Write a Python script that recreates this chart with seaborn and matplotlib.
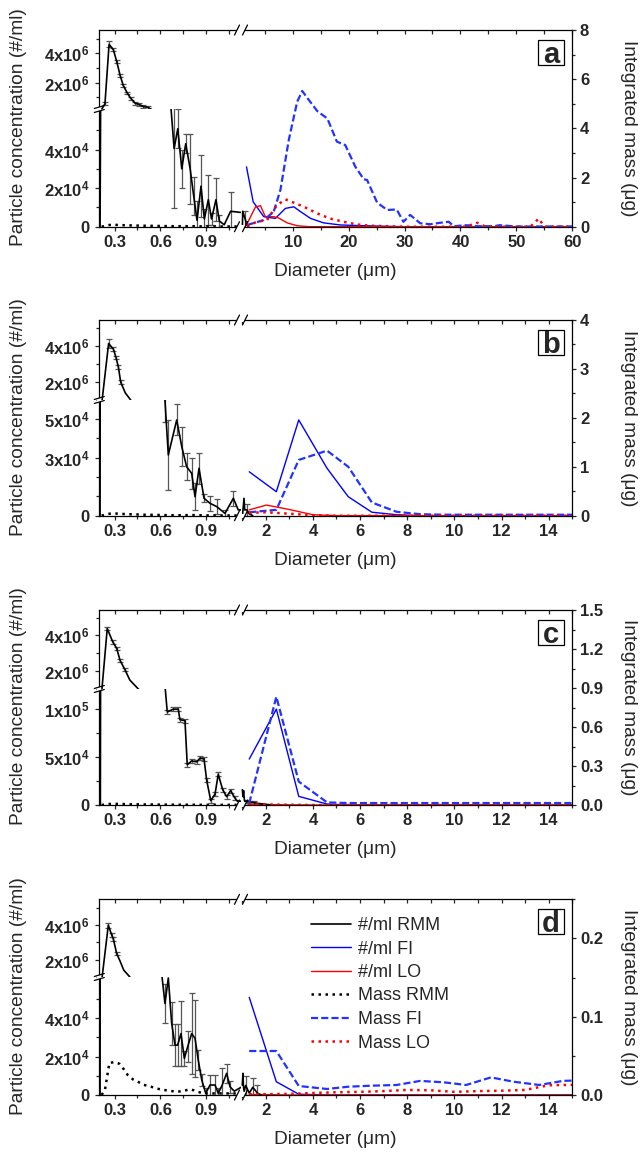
import matplotlib.pyplot as plt
import seaborn as sns
import numpy as np
from matplotlib.lines import Line2D
from matplotlib.patches import Rectangle

sns.set_theme(style="ticks")
plt.rcParams['font.family'] = ['Liberation Sans', 'DejaVu Sans']
plt.rcParams['mathtext.fontset'] = 'custom'
plt.rcParams['mathtext.rm'] = 'Liberation Sans'
plt.rcParams['mathtext.bf'] = 'Liberation Sans:bold'
plt.rcParams['axes.linewidth'] = 0.9
plt.rcParams['axes.edgecolor'] = 'black'

W, H = 640, 1153

# ---------------- data ----------------
panel_letters = ['a', 'b', 'c', 'd']

# RMM number concentration (#/ml) and error bars
rmm_x_a = [0.205, 0.237, 0.264, 0.292, 0.314, 0.336, 0.357, 0.383, 0.405, 0.434, 0.462, 0.488, 0.521,
           0.555, 0.59, 0.625, 0.663, 0.69, 0.714, 0.74, 0.766, 0.795, 0.818, 0.84, 0.866, 0.888,
           0.914, 0.935, 0.964, 0.986, 1.018, 1.06, 1.5, 1.8, 2.1]
rmm_n_a = [0, 5.5e5, 4.6e6, 4.24e6, 3.44e6, 2.5e6, 1.8e6, 1.29e6, 9.4e5, 6.0e5, 5.0e5, 3.7e5, 3.0e5,
           9e4, 8e4, 7e4, 6.8e4, 4.05e4, 5.08e4, 3.0e4, 4.3e4, 3.0e4, 1.6e4, 3.3e3, 2.1e4, 4e3,
           1.4e4, 4e3, 1.4e4, 3e3, 1e3, 8e3, 4e3, 1e3, 0]
rmm_err_a = [0, 1e5, 2e5, 1e5, 1e5, 1e5, 1e5, 1e5, 1e5, 1e5, 1e5, 1e5, 1e5,
             0, 0, 0, 0, 3.1e4, 1.0e4, 1.0e4, 5e3, 1.8e4, 1.0e4, 1.0e4, 1.6e4, 5e3,
             1.3e4, 3e3, 1.1e4, 3e3, 0, 1.0e4, 4e3, 0, 0]

rmm_x_b = [0.205, 0.261, 0.292, 0.309, 0.325, 0.34, 0.37, 0.45, 0.55, 0.62,
           0.63, 0.652, 0.707, 0.74, 0.772, 0.805, 0.827, 0.853, 0.886, 0.925, 0.969, 1.023, 1.078, 1.11,
           1.2, 1.3, 1.45]
rmm_n_b = [0, 4.15e6, 3.84e6, 3.38e6, 2.84e6, 2.0e6, 1.4e6, 5e5, 2e5, 8e4,
           5.95e4, 3.14e4, 4.95e4, 3.57e4, 2.53e4, 2.19e4, 9.8e3, 2.45e4, 9e3, 6.4e3, 4.7e3, 1.2e3, 9e3, 3e3,
           3e3, 1e3, 0]
rmm_err_b = [0, 2.5e5, 1e5, 1e5, 1e5, 1e5, 0, 0, 0, 0,
             1.1e4, 1.8e4, 8e3, 1.0e4, 7e3, 8e3, 7e3, 8e3, 2e3, 4e3, 4e3, 2e3, 4e3, 0,
             3e3, 0, 0]

rmm_x_c = [0.207, 0.252, 0.288, 0.314, 0.336, 0.368, 0.40, 0.5, 0.6, 0.625,
           0.63, 0.645, 0.685, 0.717, 0.728, 0.761, 0.776, 0.805, 0.838, 0.86, 0.886, 0.903, 0.93,
           0.958, 0.979, 1.008, 1.034, 1.06, 1.089, 1.104,
           1.2, 1.35, 1.5, 1.7, 1.9, 2.2]
rmm_n_c = [0, 4.38e6, 3.64e6, 3.27e6, 2.6e6, 2.08e6, 1.5e6, 6e5, 2.5e5, 1.4e5,
           1.25e5, 9.7e4, 1.0e5, 1.0e5, 8.9e4, 8.8e4, 4.2e4, 4.6e4, 4.5e4, 4.9e4, 4.8e4, 2.6e4, 4.5e3,
           1.15e4, 3.2e4, 1.6e4, 8.7e3, 1.5e4, 7e3, 4e3,
           4e3, 3e3, 2.5e3, 1.5e3, 1e3, 0]
rmm_err_c = [0, 1e5, 1e5, 1e5, 1e5, 1e5, 0, 0, 0, 0,
             0, 2e3, 2e3, 2e3, 2e3, 2e3, 2e3, 2e3, 2e3, 2e3, 2e3, 2e3, 2e3,
             2e3, 2e3, 2e3, 2e3, 2e3, 2e3, 0,
             1.5e3, 1.5e3, 1.5e3, 1e3, 0, 0]

rmm_x_d = [0.205, 0.259, 0.281, 0.292, 0.314, 0.336, 0.36, 0.45, 0.53, 0.59,
           0.609, 0.63, 0.652, 0.674, 0.696, 0.713, 0.735, 0.757, 0.779, 0.805, 0.827, 0.848, 0.871,
           0.897, 0.925, 0.958, 0.979, 1.005, 1.034, 1.056, 1.084,
           1.15, 1.3, 1.45, 1.65, 1.8]
rmm_n_d = [0, 4.0e6, 3.44e6, 3.2e6, 2.35e6, 1.92e6, 1.4e6, 5e5, 1.5e5, 9e4,
           6.3e4, 4.77e4, 6.1e4, 3.73e4, 2.6e4, 2.6e4, 3.2e4, 1.91e4, 2.52e4, 3.2e4, 2.95e4, 1.82e4, 7.8e3,
           900, 5.2e3, 5.2e3, 900, 5.2e3, 1.13e4, 4.3e3, 2e3,
           5e3, 1e3, 4e3, 1e3, 0]
rmm_err_d = [0, 1.5e5, 1e5, 1e5, 1e5, 0, 0, 0, 0, 0,
             0, 1.0e4, 0, 1.1e4, 1.1e4, 1.1e4, 1.7e4, 4e3, 8e3, 2.1e4, 2.0e4, 5e3, 3e3,
             3e3, 5e3, 5e3, 3e3, 9e3, 5e3, 3e3, 0,
             5e3, 0, 5e3, 4e3, 0]

# RMM integrated mass (ug), sub-micron range
rmm_mass_x = [0.215, 0.237, 0.266, 0.3, 0.331, 0.36, 0.386, 0.42, 0.452, 0.49, 0.539, 0.58,
              0.626, 0.67, 0.714, 0.75, 0.79, 0.82, 0.845, 0.888, 0.95, 1.0, 1.05, 1.1]
rmm_mass_a = [0, 0.03, 0.07, 0.075, 0.07, 0.06, 0.055, 0.05, 0.045, 0.04, 0.035, 0.03,
              0.025, 0.02, 0.02, 0.02, 0.02, 0.02, 0.015, 0.01, 0.01, 0.01, 0.01, 0.01]
rmm_mass_b = [0, 0.02, 0.04, 0.045, 0.04, 0.035, 0.03, 0.028, 0.025, 0.02, 0.018, 0.015,
              0.012, 0.01, 0.01, 0.01, 0.012, 0.012, 0.01, 0.008, 0.006, 0.005, 0.005, 0.005]
rmm_mass_c = [0, 0.004, 0.008, 0.009, 0.008, 0.007, 0.006, 0.005, 0.005, 0.004, 0.004, 0.003,
              0.003, 0.002, 0.002, 0.002, 0.002, 0.002, 0.002, 0.001, 0.001, 0.001, 0.001, 0.001]
rmm_mass_d = [0, 0.0064, 0.041, 0.042, 0.040, 0.033, 0.0255, 0.02, 0.017, 0.013, 0.0106, 0.008,
              0.0064, 0.005, 0.0043, 0.005, 0.0073, 0.006, 0.004, 0.002, 0.002, 0.002, 0.002, 0.002]

# FI (flow imaging) and LO (light obscuration), micron range
fi_x_a = [1.74, 2.93, 4.83, 6.9, 8.7, 10.2, 11.4, 13.2, 15.5, 18.5, 22.7, 30, 40, 50, 60]
fi_n_a = [3.1e4, 1.29e4, 5.2e3, 4.3e3, 9.5e3, 1.03e4, 7.8e3, 4.3e3, 2.0e3, 900, 500, 0, 0, 0, 0]
fi_mass_x_a = [1.86, 4.83, 6.6, 7.8, 9.3, 10.8, 11.7, 12.9, 14.4, 16.2, 17.9, 19.4, 21.2, 22.7, 23.3,
               25.1, 26.9, 28.6, 29.8, 31.0, 32.8, 34.6, 36.4, 37.9, 38.8, 41.0, 43.0, 46.0, 47.0,
               50.0, 60.0]
fi_mass_a = [0.07, 0.27, 0.61, 1.49, 3.53, 5.08, 5.52, 5.15, 4.7, 4.4, 3.46, 3.32, 2.44, 1.93, 1.9,
             0.98, 0.68, 0.7, 0.2, 0.48, 0.14, 0.1, 0.16, 0.2, 0.02, 0.06, 0.02, 0.02, 0.06,
             0.01, 0.01]
lo_x_a = [1.74, 3.35, 4.24, 5.1, 6.6, 7.5, 9.0, 10.8, 13.0, 20.0, 60.0]
lo_n_a = [900, 1.03e4, 1.09e4, 5.2e3, 5.2e3, 4.5e3, 2.0e3, 500, 0, 0, 0]
lo_mass_x_a = [1.86, 3.6, 5.4, 7.2, 8.7, 10.5, 12.0, 14.4, 16.7, 19.1, 21.5, 23.9, 30.0, 41.0,
               43.0, 44.5, 52.5, 54.0, 55.0, 60.0]
lo_mass_a = [0.03, 0.2, 0.27, 0.88, 1.11, 0.95, 0.81, 0.54, 0.33, 0.2, 0.09, 0.04, 0, 0,
             0.16, 0, 0, 0.33, 0, 0]

fi_x = [1.3, 2.45, 3.4, 4.6, 5.5, 6.5, 7.55, 8.55, 9.55, 10.5, 11.55, 12.5, 13.6, 14.6, 15.6]
fi_n_b = [2.27e4, 1.24e4, 4.95e4, 2.45e4, 9.8e3, 1.8e3, 500, 0, 0, 0, 0, 0, 0, 0, 0]
fi_mass_b = [0.07, 0.12, 1.14, 1.33, 1.0, 0.27, 0.08, 0.03, 0.02, 0.02, 0.02, 0.02, 0.02, 0.02, 0.02]
fi_n_c = [4.79e4, 1.0e5, 9e3, 1e3, 0, 0, 0, 0, 0, 0, 0, 0, 0, 0, 0]
fi_mass_c = [0.013, 0.833, 0.18, 0.02, 0.015, 0.015, 0.015, 0.015, 0.015, 0.015, 0.015, 0.015,
             0.015, 0.015, 0.015]
fi_n_d = [5.09e4, 6.9e3, 400, 0, 0, 0, 0, 0, 0, 0, 0, 0, 0, 0, 0]
fi_mass_d = [0.0562, 0.0562, 0.0115, 0.0077, 0.0106, 0.0119, 0.0128, 0.018, 0.0162, 0.0128, 0.0225,
             0.017, 0.0128, 0.018, 0.019]

lo_x = [1.3, 2.03, 3.0, 4.0, 5.0, 6.0, 7.0, 8.0, 9.0, 10.0, 11.0, 12.0, 13.0, 14.0, 15.0, 16.0]
lo_n_b = [3e3, 5.5e3, 3.2e3, 500, 0, 0, 0, 0, 0, 0, 0, 0, 0, 0, 0, 0]
lo_mass_b = [0.06, 0.07, 0.04, 0.01, 0, 0, 0, 0, 0, 0, 0, 0, 0, 0, 0, 0]
lo_n_c = [800, 500, 200, 0, 0, 0, 0, 0, 0, 0, 0, 0, 0, 0, 0, 0]
lo_mass_c = [0.005, 0.004, 0.002, 0, 0, 0, 0, 0, 0, 0, 0, 0, 0, 0, 0, 0]
lo_n_d = [300, 200, 0, 0, 0, 0, 0, 0, 0, 0, 0, 0, 0, 0, 0, 0]
lo_mass_d = [0.001, 0.001, 0.0015, 0.0025, 0.0035, 0.004, 0.005, 0.0065, 0.006, 0.004, 0.005,
             0.0055, 0.0065, 0.0125, 0.013, 0.013]

# axis ranges and tick labels
upper_lims = [(2.0e5, 5.58e6), (1.77e6, 5.46e6), (1.9e6, 5.42e6), (1.84e6, 5.5e6)]
lower_lims = [(0, 6.1e4), (0, 5.98e4), (0, 1.21e5), (0, 6.15e4)]
mass_lims = [(0, 8), (0, 4), (0, 1.5), (0, 0.25)]
right_x_lims = [(0.755, 60), (0.951, 15), (0.951, 15), (0.951, 15)]

upper_ticks = [2e6, 4e6]
upper_tick_labels = [r'$\mathbf{2x10^{6}}$', r'$\mathbf{4x10^{6}}$']
upper_minor = [1e6, 3e6, 5e6]
lower_ticks = [[0, 2e4, 4e4], [0, 3e4, 5e4], [0, 5e4, 1e5], [0, 2e4, 4e4]]
lower_tick_labels = [['0', r'$\mathbf{2x10^{4}}$', r'$\mathbf{4x10^{4}}$'],
                     ['0', r'$\mathbf{3x10^{4}}$', r'$\mathbf{5x10^{4}}$'],
                     ['0', r'$\mathbf{5x10^{4}}$', r'$\mathbf{1x10^{5}}$'],
                     ['0', r'$\mathbf{2x10^{4}}$', r'$\mathbf{4x10^{4}}$']]
lower_minor = [[1e4, 3e4, 5e4], [1e4, 2e4, 4e4], [2.5e4, 7.5e4], [1e4, 3e4, 5e4]]
mass_ticks = [[0, 2, 4, 6, 8], [0, 1, 2, 3, 4], [0, 0.3, 0.6, 0.9, 1.2, 1.5], [0, 0.1, 0.2]]
mass_tick_labels = [['0', '2', '4', '6', '8'], ['0', '1', '2', '3', '4'],
                    ['0.0', '0.3', '0.6', '0.9', '1.2', '1.5'], ['0.0', '0.1', '0.2']]
mass_minor = [[1, 3, 5, 7], [0.5, 1.5, 2.5, 3.5], [0.15, 0.45, 0.75, 1.05, 1.35], [0.05, 0.15, 0.25]]
left_x_ticks = [0.3, 0.6, 0.9]
left_x_labels = ['0.3', '0.6', '0.9']
left_x_minor = [0.45, 0.75, 1.05]
right_x_ticks = [[10, 20, 30, 40, 50, 60]] + [[2, 4, 6, 8, 10, 12, 14]] * 3
right_x_minor = [[5, 15, 25, 35, 45, 55]] + [[1, 3, 5, 7, 9, 11, 13, 15]] * 3

legend_labels = ['#/ml RMM', '#/ml FI', '#/ml LO', 'Mass RMM', 'Mass FI', 'Mass LO']

# ---------------- layout (pixels) ----------------
XL, XB, XR = 99.3, 241.0, 572.3
frames = [(30, 109, 226.7), (320, 400, 515.7), (610, 689, 805), (899.3, 977, 1095)]

TMAJ, TMIN, TW = 3.2, 1.9, 0.9
TFS, LFS = 12, 13.8

BLUE, RED = '#0000ff', '#ff0000'
DASH = (0, (3.2, 1.4))
DOT = (0, (1, 1.8))

fig = plt.figure(figsize=(W / 100, H / 100), dpi=100)


def fx(px):
    return px / W


def fy(py):
    return 1 - py / H


def box(x0, y0, x1, y1):
    return [fx(x0), fy(y1), (x1 - x0) / W, (y1 - y0) / H]


def slash_x(px, py):
    fig.add_artist(Rectangle((fx(px - 4), fy(py + 2)), 8 / W, 4 / H, transform=fig.transFigure,
                             fc='white', ec='none', zorder=10))
    for dx in (-4, 4):
        fig.add_artist(Line2D([fx(px + dx - 2.5), fx(px + dx + 2.5)], [fy(py + 5), fy(py - 5)],
                              transform=fig.transFigure, color='black', lw=0.9, zorder=11))


def slash_y(px, py):
    fig.add_artist(Rectangle((fx(px - 2), fy(py + 2)), 4 / W, 4 / H, transform=fig.transFigure,
                             fc='white', ec='none', zorder=10))
    for dy in (-2, 2):
        fig.add_artist(Line2D([fx(px - 5), fx(px + 5)], [fy(py + dy + 1.5), fy(py + dy - 1.5)],
                              transform=fig.transFigure, color='black', lw=0.9, zorder=11))


def draw_rmm(ax, x, n, err, xmin_err=None):
    x, n, err = np.array(x), np.array(n), np.array(err)
    ok = err > 0
    if xmin_err is not None:
        ok &= x >= xmin_err
    ax.errorbar(x[ok], n[ok], yerr=err[ok], fmt='none', ecolor='#555555', elinewidth=0.9,
                capsize=2.5, capthick=0.9, zorder=2)
    sns.lineplot(x=x, y=n, ax=ax, color='black', lw=1.2, estimator=None, sort=False,
                 legend=False, zorder=3)
    return ax.lines[-1]


datasets = [
    (rmm_x_a, rmm_n_a, rmm_err_a, rmm_mass_a, fi_x_a, fi_n_a, fi_mass_x_a, fi_mass_a,
     lo_x_a, lo_n_a, lo_mass_x_a, lo_mass_a),
    (rmm_x_b, rmm_n_b, rmm_err_b, rmm_mass_b, fi_x, fi_n_b, fi_x, fi_mass_b,
     lo_x, lo_n_b, lo_x, lo_mass_b),
    (rmm_x_c, rmm_n_c, rmm_err_c, rmm_mass_c, fi_x, fi_n_c, fi_x, fi_mass_c,
     lo_x, lo_n_c, lo_x, lo_mass_c),
    (rmm_x_d, rmm_n_d, rmm_err_d, rmm_mass_d, fi_x, fi_n_d, fi_x, fi_mass_d,
     lo_x, lo_n_d, lo_x, lo_mass_d),
]

handles = []
for i, (top, brk, bot) in enumerate(frames):
    (rx, rn, re, rm, fx_, fn, fmx, fm, lx, ln, lmx, lm) = datasets[i]

    ax_up = fig.add_axes(box(XL, top, XB, brk))
    ax_lo = fig.add_axes(box(XL, brk, XB, bot))
    ax_r = fig.add_axes(box(XB, top, XR, bot))
    ax_m = ax_r.twinx()
    ax_ml = fig.add_axes(box(XL, top, XB, bot))
    ax_ml.axis('off')

    # sub-micron RMM counts, drawn on both halves of the broken axis
    draw_rmm(ax_up, rx, rn, re)
    draw_rmm(ax_lo, rx, rn, re)
    sel = np.array(rx) >= 1.0
    h_rmm = draw_rmm(ax_r, np.array(rx)[sel], np.array(rn)[sel], np.array(re)[sel], xmin_err=1.12)

    sns.lineplot(x=fx_, y=fn, ax=ax_r, color=BLUE, lw=1.0, estimator=None, sort=False, legend=False)
    h_fi = ax_r.lines[-1]
    sns.lineplot(x=lx, y=ln, ax=ax_r, color=RED, lw=1.0, estimator=None, sort=False, legend=False)
    h_lo = ax_r.lines[-1]
    sns.lineplot(x=rmm_mass_x, y=rm, ax=ax_ml, color='black', lw=1.8, linestyle=DOT,
                 estimator=None, sort=False, legend=False)
    h_mr = ax_ml.lines[-1]
    sns.lineplot(x=fmx, y=fm, ax=ax_m, color='#2233ff', lw=1.6, linestyle=DASH,
                 estimator=None, sort=False, legend=False)
    h_mf = ax_m.lines[-1]
    sns.lineplot(x=lmx, y=lm, ax=ax_m, color=RED, lw=1.8, linestyle=DOT,
                 estimator=None, sort=False, legend=False)
    h_ml = ax_m.lines[-1]
    if i == 3:
        handles = [h_rmm, h_fi, h_lo, h_mr, h_mf, h_ml]

    # limits
    for ax in (ax_up, ax_lo, ax_ml):
        ax.set_xlim(0.2, 1.128)
    ax_up.set_ylim(*upper_lims[i])
    ax_lo.set_ylim(*lower_lims[i])
    ax_r.set_xlim(*right_x_lims[i])
    ax_r.set_ylim(0, lower_lims[i][1] * (bot - top) / (bot - brk))
    ax_m.set_ylim(*mass_lims[i])
    ax_ml.set_ylim(*mass_lims[i])

    for ax in (ax_up, ax_lo, ax_r, ax_m):
        ax.set_xlabel('')
        ax.set_ylabel('')

    # spines
    ax_up.spines[['bottom', 'right']].set_visible(False)
    ax_lo.spines[['top', 'right']].set_visible(False)
    ax_r.spines[['left', 'right']].set_visible(False)
    ax_m.spines[['left', 'top', 'bottom']].set_visible(False)

    # left region ticks
    ax_up.set_xticks(left_x_ticks)
    ax_up.set_xticks(left_x_minor, minor=True)
    ax_up.tick_params(axis='x', which='both', bottom=False, labelbottom=False, top=True,
                      direction='in', length=TMAJ, width=TW)
    ax_up.set_yticks(upper_ticks, upper_tick_labels, fontsize=TFS, fontweight='bold')
    ax_up.set_yticks(upper_minor, minor=True)
    ax_up.tick_params(axis='y', which='major', direction='out', length=TMAJ, width=TW, pad=4.0)
    ax_up.tick_params(axis='y', which='minor', direction='out', length=TMIN, width=TW)

    ax_lo.set_xticks(left_x_ticks, left_x_labels, fontsize=TFS, fontweight='bold')
    ax_lo.set_xticks(left_x_minor, minor=True)
    ax_lo.tick_params(axis='x', which='major', direction='out', length=TMAJ, width=TW, pad=2.9,
                      top=False)
    ax_lo.tick_params(axis='x', which='minor', direction='out', length=TMIN, width=TW, top=False)
    ax_lo.set_yticks(lower_ticks[i], lower_tick_labels[i], fontsize=TFS, fontweight='bold')
    ax_lo.set_yticks(lower_minor[i], minor=True)
    ax_lo.tick_params(axis='y', which='major', direction='out', length=TMAJ, width=TW, pad=4.0)
    ax_lo.tick_params(axis='y', which='minor', direction='out', length=TMIN, width=TW)

    # right region ticks
    ax_r.set_xticks(right_x_ticks[i], [str(t) for t in right_x_ticks[i]], fontsize=TFS,
                    fontweight='bold')
    ax_r.set_xticks(right_x_minor[i], minor=True)
    ax_r.tick_params(axis='x', which='major', direction='out', length=TMAJ, width=TW, pad=2.9,
                     top=False)
    ax_r.tick_params(axis='x', which='minor', direction='out', length=TMIN, width=TW, top=False)
    ax_r.tick_params(axis='y', which='both', left=False, labelleft=False, right=False,
                     labelright=False)
    ax_m.xaxis.set_visible(True)
    ax_m.tick_params(axis='x', which='both', bottom=False, labelbottom=False, top=True,
                     labeltop=False, direction='in', length=TMAJ, width=TW)
    ax_m.set_yticks(mass_ticks[i], mass_tick_labels[i], fontsize=TFS, fontweight='bold')
    ax_m.set_yticks(mass_minor[i], minor=True)
    ax_m.tick_params(axis='y', which='major', direction='out', length=TMAJ, width=TW, pad=2.3)
    ax_m.tick_params(axis='y', which='minor', direction='out', length=TMIN, width=TW)

    # axis breaks
    slash_x(XB, top)
    slash_x(XB, bot)
    slash_y(XL, brk)

    # panel letter
    fig.add_artist(Rectangle((fx(538.3), fy(top + 35)), 25.5 / W, 25 / H, transform=fig.transFigure,
                             fc='white', ec='black', lw=0.9, zorder=12))
    fig.text(fx(551), fy(top + 33), panel_letters[i], fontsize=21, fontweight='bold',
             ha='center', va='baseline', zorder=13)

    # axis labels
    mid = (top + bot) / 2
    fig.text(fx(18.5), fy(mid - 1), 'Particle concentration (#/ml)', rotation=90, fontsize=LFS,
             ha='center', va='center')
    fig.text(fx(629), fy(mid), 'Integrated mass (\u03bcg)', rotation=270, fontsize=LFS,
             ha='center', va='center')
    fig.text(fx(335.5), fy(bot + 45), 'Diameter (\u03bcm)', fontsize=LFS, ha='center', va='center')

fig.legend(handles, legend_labels, loc='upper left', bbox_to_anchor=(fx(311), fy(917)),
           frameon=False, fontsize=13, handlelength=2.2, handletextpad=0.38, labelspacing=0.36,
           borderpad=0, borderaxespad=0)

fig.savefig('out.png', dpi=100, facecolor='white')
